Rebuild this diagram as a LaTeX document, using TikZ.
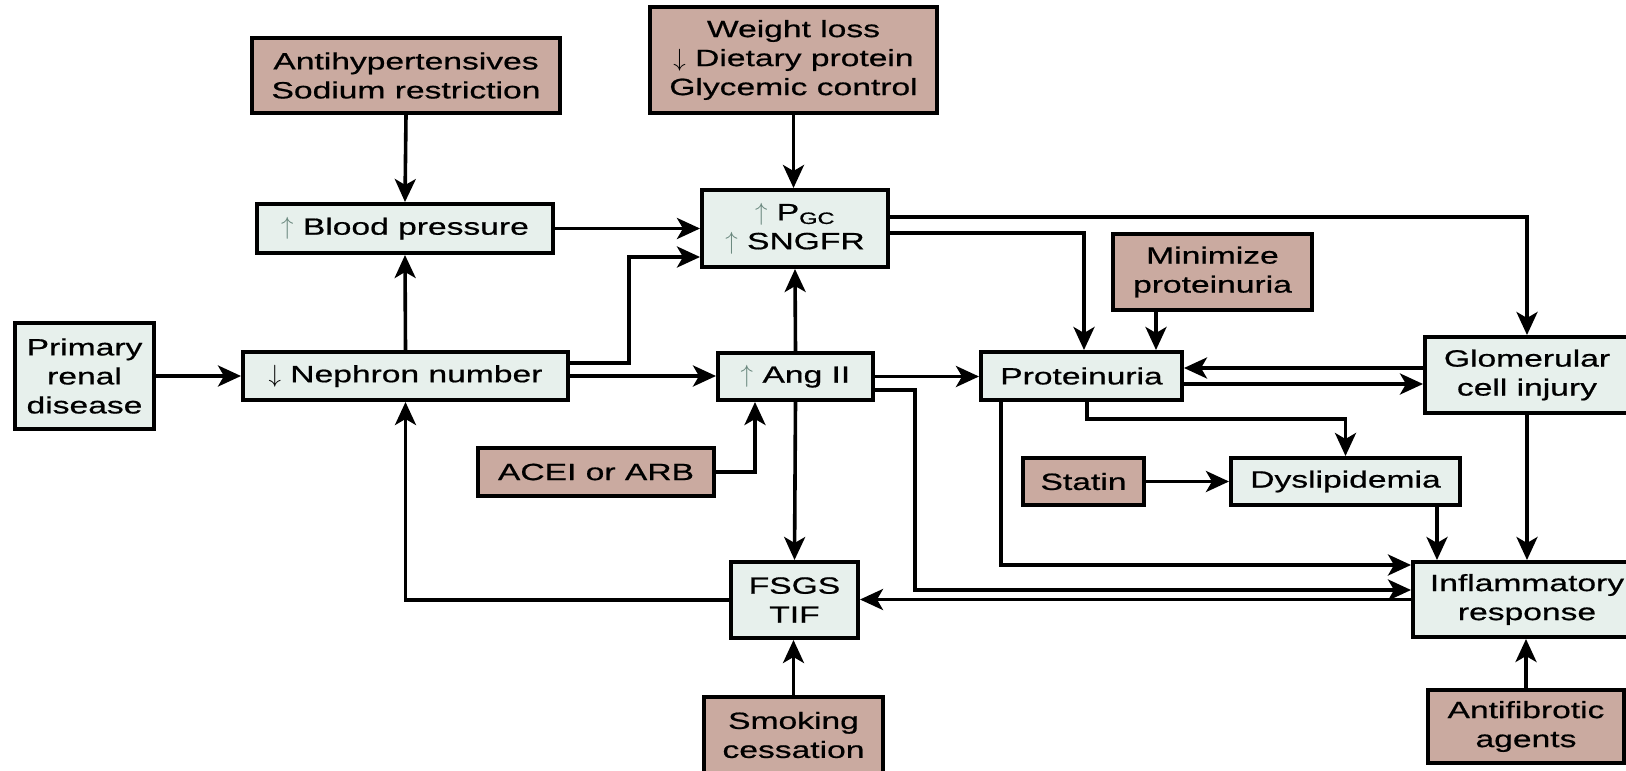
\documentclass[tikz,border=0pt]{standalone}
\usepackage{fontspec}
\setmainfont{Liberation Sans}[FakeStretch=1.43,FakeBold=0.7]
\usepackage{tikz}
\usetikzlibrary{arrows.meta}
\definecolor{PaleMint}{RGB}{231,240,236}
\definecolor{Clay}{RGB}{202,170,160}
\definecolor{UpGray}{RGB}{105,135,125}
\newcommand{\upar}{{\color{UpGray}$\uparrow$}}
\newcommand{\downar}{$\downarrow$}

\begin{document}
\begin{tikzpicture}[
 x=1pt, y=-1pt,
 lightbox/.style={draw, line width=4pt, fill=PaleMint, align=center, inner sep=0pt},
 drugbox/.style={draw, line width=4pt, fill=Clay, align=center, inner sep=0pt},
 link/.style={-{Stealth[length=23pt,width=21pt,inset=6pt]}, line width=3.6pt},
 font=\fontsize{23.5}{29}\selectfont
]
\useasboundingbox (0,0) rectangle (1626,771);
\fill[white] (0,0) rectangle (1626,771);

\node[drugbox,  minimum width=308pt, minimum height=75pt]  (anti)    at (406,75.5)     {Antihypertensives\\Sodium restriction};
\node[drugbox,  minimum width=287pt, minimum height=106pt] (weight)  at (793.5,60)     {Weight loss\\\downar{} Dietary protein\\Glycemic control};
\node[lightbox, minimum width=296pt, minimum height=49pt]  (bp)      at (405,228.5)    {\upar{} Blood pressure};
\node[lightbox, minimum width=186pt, minimum height=77pt]  (pgc)     at (795,228.5)    {\upar{} P\textsubscript{GC}\\\upar{} SNGFR};
\node[drugbox,  minimum width=199pt, minimum height=76pt]  (mini)    at (1212.5,272)   {Minimize\\proteinuria};
\node[lightbox, minimum width=139pt, minimum height=106pt] (prim)    at (84.5,376)     {Primary\\renal\\disease};
\node[lightbox, minimum width=325pt, minimum height=48pt]  (neph)    at (405.5,376)    {\downar{} Nephron number};
\node[lightbox, minimum width=155pt, minimum height=47pt]  (ang)     at (795.5,376.5)  {\upar{} Ang II};
\node[lightbox, minimum width=201pt, minimum height=48pt]  (prot)    at (1081.5,376)   {Proteinuria};
\node[lightbox, minimum width=204pt, minimum height=76pt]  (glom)    at (1527,375)     {Glomerular\\cell injury};
\node[drugbox,  minimum width=236pt, minimum height=48pt]  (acei)    at (596,472)      {ACEI or ARB};
\node[drugbox,  minimum width=121pt, minimum height=47pt]  (statin)  at (1083.5,481.5) {Statin};
\node[lightbox, minimum width=229pt, minimum height=47pt]  (dys)     at (1345.5,481.5) {Dyslipidemia};
\node[lightbox, minimum width=127pt, minimum height=76pt]  (fsgs)    at (794.5,600)    {FSGS\\TIF};
\node[lightbox, minimum width=228pt, minimum height=75pt]  (infl)    at (1527,599.5)   {Inflammatory\\response};
\node[drugbox,  minimum width=179pt, minimum height=76pt]  (smoke)   at (793.5,735)    {Smoking\\cessation};
\node[drugbox,  minimum width=196pt, minimum height=73pt]  (antifib) at (1526,726.5)   {Antifibrotic\\agents};

% left half
\draw[link] (anti.south) -- (bp.north);
\draw[link] (weight.south) -- (weight.south |- pgc.north);
\draw[link] (bp.east) -- (bp.east -| pgc.west);
\draw[link] ([yshift=13pt]neph.east) -- ++(59,0) |- ([yshift=-28.5pt]pgc.west);
\draw[link] (prim.east) -- (neph.west);
\draw[link] (neph.east) -- (neph.east -| ang.west);
\draw[link] (neph.north) -- (bp.south);
\draw[link] (ang.north) -- (pgc.south);
\draw[link] (ang.east) -- (ang.east -| prot.west);
\draw[link] (ang.south) -- (fsgs.north);
\draw[link] (acei.east) -| ([xshift=-40.5pt]ang.south);
\draw[link] ([yshift=-13.5pt]ang.east) -- ++(40,0) |- ([yshift=9.5pt]infl.west);
\draw[link] (infl.west) -- (infl.west -| fsgs.east);
\draw[link] (fsgs.west) -| (neph.south);
\draw[link] (smoke.north) -- (smoke.north |- fsgs.south);

% right half
\draw[link] ([yshift=11.5pt]pgc.east) -| (glom.north);
\draw[link] ([yshift=-4.5pt]pgc.east) -| ([xshift=2.5pt]prot.north);
\draw[link] ([xshift=-56.5pt]mini.south) -- ([xshift=-56.5pt]mini.south |- prot.north);
\draw[link] ([yshift=7pt]glom.west) -- ([yshift=7pt]glom.west -| prot.east);
\draw[link] ([yshift=-8pt]prot.east) -- ([yshift=-8pt]prot.east -| glom.west);
\draw[link] ([xshift=5.5pt]prot.south) -- ++(0,17) -| (dys.north);
\draw[link] (statin.east) -- (dys.west);
\draw[link] ([xshift=91.5pt]dys.south) -- ([xshift=91.5pt]dys.south |- infl.north);
\draw[link] (glom.south) -- (infl.north);
\draw[link] ([xshift=-80.5pt]prot.south) |- ([yshift=34.5pt]infl.west);
\draw[link] (antifib.north) -- (antifib.north |- infl.south);
\end{tikzpicture}
\end{document}
